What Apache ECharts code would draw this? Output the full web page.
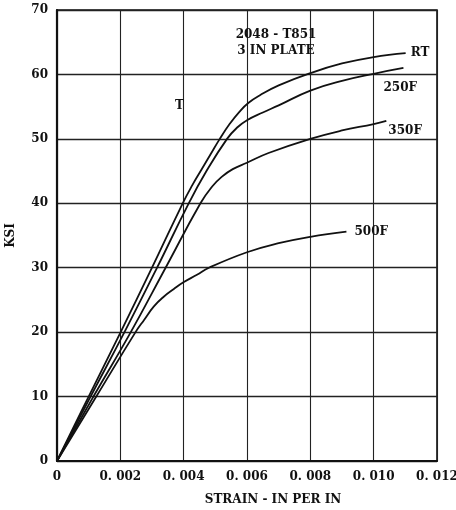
<!DOCTYPE html>
<html>
<head>
<meta charset="utf-8">
<script src="https://cdn.jsdelivr.net/npm/echarts@6/dist/echarts.min.js"></script>
<style>
  html, body { margin: 0; padding: 0; background: #fff; }
  #chart { width: 456px; height: 510px; }
</style>
</head>
<body>
<div id="chart"></div>
<script>
// Stress-strain curves, 2048-T851 3 in plate, at several test temperatures.
// Each point: [strain (in/in), stress (ksi)]
const curveRT = [
  [0, 0], [0.00100, 10], [0.00201, 20], [0.00300, 30], [0.00397, 40],
  [0.00426, 42.7], [0.00456, 45.2], [0.00485, 47.6], [0.00514, 50],
  [0.00545, 52.3], [0.00576, 54.2], [0.00605, 55.6], [0.00642, 56.8],
  [0.0070, 58.3], [0.0080, 60.2], [0.0090, 61.7], [0.0100, 62.7], [0.01101, 63.3]
];
const curve250F = [
  [0, 0], [0.00106, 10], [0.00213, 20], [0.00316, 30], [0.00416, 40],
  [0.00472, 45], [0.00537, 50], [0.0057, 51.8], [0.0060, 52.9],
  [0.0065, 54.1], [0.0070, 55.2], [0.0080, 57.5], [0.0090, 59.0],
  [0.0100, 60.1], [0.01094, 61.0]
];
const curve350F = [
  [0, 0], [0.00115, 10], [0.00233, 20], [0.00343, 30], [0.00453, 40],
  [0.0049, 42.6], [0.0052, 44.1], [0.00555, 45.3], [0.0060, 46.3],
  [0.00668, 47.8], [0.0080, 50.0], [0.0090, 51.3], [0.0100, 52.3],
  [0.0104, 52.8]
];
const curve500F = [
  [0, 0], [0.00124, 10], [0.00248, 20], [0.00275, 21.9], [0.00306, 24.0],
  [0.00337, 25.5], [0.00369, 26.7], [0.00398, 27.7], [0.00442, 28.9],
  [0.0048, 30.0], [0.0060, 32.4], [0.0070, 33.8], [0.0080, 34.8],
  [0.00914, 35.6]
];

const seriesNames = ['RT', '250F', '350F', '500F'];
const xTickLabels = ['0', '0. 002', '0. 004', '0. 006', '0. 008', '0. 010', '0. 012'];
const yTickLabels = ['0', '10', '20', '30', '40', '50', '60', '70'];
const titleLines = ['2048 - T851', '3 IN PLATE'];
const markerText = 'T';
const markerAt = [0.00387, 55.1];

const FONT = 'DejaVu Serif';
const INK = '#111';

const chart = echarts.init(document.getElementById('chart'));

function curveSeries(name, data, labelOffset) {
  return {
    name: name,
    type: 'line',
    data: data,
    smooth: 0.45,
    showSymbol: false,
    symbol: 'none',
    lineStyle: { color: INK, width: 1.8 },
    endLabel: {
      show: true,
      formatter: name,
      color: INK,
      fontFamily: FONT,
      fontWeight: 'bold',
      fontSize: 12,
      offset: labelOffset
    },
    z: 5
  };
}

chart.setOption({
  animation: false,
  backgroundColor: '#fff',
  title: {
    text: titleLines.join('\n'),
    left: 271,
    top: 22,
    textAlign: 'center',
    textStyle: {
      color: INK, fontFamily: FONT, fontWeight: 'bold', fontSize: 12, lineHeight: 16
    }
  },
  grid: {
    left: 57, right: 19, top: 10, bottom: 49,
    outerBoundsMode: 'none',
    containLabel: false,
    show: true, borderColor: INK, borderWidth: 1.6
  },
  xAxis: {
    type: 'value',
    min: 0, max: 0.012, interval: 0.002,
    name: 'STRAIN - IN PER IN',
    nameLocation: 'middle',
    nameGap: 33,
    nameTextStyle: {
      color: INK, fontFamily: FONT, fontWeight: 'bold', fontSize: 12,
      padding: [0, 0, 0, 52]
    },
    axisLine: { show: true, lineStyle: { color: INK, width: 2.2 } },
    axisTick: { show: false },
    axisLabel: {
      color: INK, fontFamily: FONT, fontWeight: 'bold', fontSize: 12, margin: 10,
      formatter: (v) => xTickLabels[Math.round(v / 0.002)]
    },
    splitLine: { show: true, lineStyle: { color: '#222', width: 1.1 } }
  },
  yAxis: {
    type: 'value',
    min: 0, max: 70, interval: 10,
    name: 'KSI',
    nameLocation: 'middle',
    nameGap: 40,
    nameRotate: 90,
    nameTextStyle: { color: INK, fontFamily: FONT, fontWeight: 'bold', fontSize: 12 },
    axisLine: { show: true, lineStyle: { color: INK, width: 2.2 } },
    axisTick: { show: false },
    axisLabel: {
      color: INK, fontFamily: FONT, fontWeight: 'bold', fontSize: 12, margin: 9,
      formatter: (v) => yTickLabels[Math.round(v / 10)]
    },
    splitLine: { show: true, lineStyle: { color: '#222', width: 1.3 } }
  },
  series: [
    curveSeries(seriesNames[0], curveRT, [-3, 0]),
    curveSeries(seriesNames[1], curve250F, [-28, 20]),
    curveSeries(seriesNames[2], curve350F, [-6, 10]),
    curveSeries(seriesNames[3], curve500F, [0, 0])
  ]
});

// Marker letter placed in data coordinates
const tPos = chart.convertToPixel({ gridIndex: 0 }, markerAt);
chart.setOption({
  graphic: [{
    type: 'text',
    x: tPos[0], y: tPos[1],
    style: {
      text: markerText, fill: INK,
      font: 'bold 12px "DejaVu Serif"',
      textAlign: 'center', textVerticalAlign: 'middle'
    },
    z: 10
  }]
});
</script>
</body>
</html>
